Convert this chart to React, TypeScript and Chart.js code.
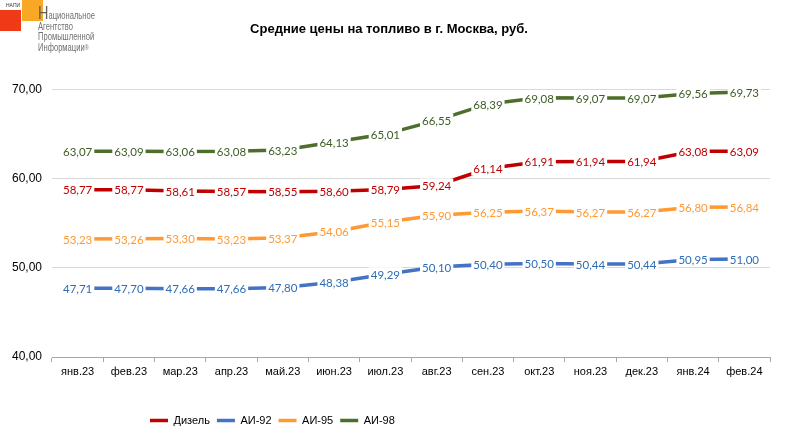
import React, { useEffect, useRef } from 'react'
import { Chart, registerables } from 'chart.js'

Chart.register(...registerables)

const months = ['янв.23', 'фев.23', 'мар.23', 'апр.23', 'май.23', 'июн.23', 'июл.23', 'авг.23', 'сен.23', 'окт.23', 'ноя.23', 'дек.23', 'янв.24', 'фев.24']

const diesel = [58.77, 58.77, 58.61, 58.57, 58.55, 58.6, 58.79, 59.24, 61.14, 61.91, 61.94, 61.94, 63.08, 63.09]
const ai92 = [47.71, 47.7, 47.66, 47.66, 47.8, 48.38, 49.29, 50.1, 50.4, 50.5, 50.44, 50.44, 50.95, 51.0]
const ai95 = [53.23, 53.26, 53.3, 53.23, 53.37, 54.06, 55.15, 55.9, 56.25, 56.37, 56.27, 56.27, 56.8, 56.84]
const ai98 = [63.07, 63.09, 63.06, 63.08, 63.23, 64.13, 65.01, 66.55, 68.39, 69.08, 69.07, 69.07, 69.56, 69.73]

const seriesNames = ['Дизель', 'АИ-92', 'АИ-95', 'АИ-98']
const lineColors = ['#C00000', '#4472C4', '#FF9933', '#4E6E2B']
const labelColors = ['#C00000', '#2E6DB4', '#FF9933', '#3D5C24']

const fmt = (v: number) => v.toFixed(2).replace('.', ',')

const sans = '"Liberation Sans", Arial, sans-serif'

// value labels sit on the points with a white box, so the line breaks around them
const pointLabels = {
  id: 'pointLabels',
  afterDatasetsDraw(chart: Chart) {
    const ctx = chart.ctx
    ctx.save()
    ctx.font = '11.5px Lato, sans-serif'
    ctx.textAlign = 'center'
    ctx.textBaseline = 'middle'
    chart.data.datasets.forEach((ds, i) => {
      const meta = chart.getDatasetMeta(i)
      meta.data.forEach((pt, j) => {
        const text = fmt(ds.data[j] as number)
        const w = ctx.measureText(text).width
        ctx.fillStyle = '#ffffff'
        ctx.fillRect(pt.x - w / 2 - 2, pt.y - 7, w + 4, 14)
        ctx.fillStyle = labelColors[i]
        ctx.fillText(text, pt.x, pt.y + 1)
      })
    })
    ctx.restore()
  },
}

// the legend sits left of centre in the original
const legendPlace = {
  id: 'legendPlace',
  afterLayout(chart: any) {
    const lg = chart.legend
    if (!lg) return
    const h = lg.bottom - lg.top
    lg.left = 143
    lg.top = 408
    lg.bottom = 408 + h
  },
}

const Logo = () => (
  <div style={{ position: 'absolute', left: 0, top: 0, width: 140, height: 60, pointerEvents: 'none' }}>
    <div style={{ position: 'absolute', left: 0, top: 10, width: 21, height: 21, background: '#F03A17' }} />
    <div style={{ position: 'absolute', left: 22, top: 0, width: 21, height: 21, background: '#F9A825' }} />
    <div style={{ position: 'absolute', left: 6, top: 2, fontSize: 5, fontFamily: sans, color: '#333' }}>НАПИ</div>
    <div
      style={{
        position: 'absolute', left: 38, top: 4, fontFamily: sans, color: '#707070',
        fontSize: 10, lineHeight: '10.3px', whiteSpace: 'pre', transform: 'scaleX(0.76)', transformOrigin: 'left top',
      }}
    >
      <span style={{ fontSize: 19, lineHeight: '18px', color: '#606060' }}>Н</span>
      {'ациональное\nАгентство\nПромышленной\nИнформации'}
      <span style={{ fontSize: 7, verticalAlign: 'top' }}>{'\u00AE'}</span>
    </div>
  </div>
)

const App = () => {
  const chartRef = useRef<HTMLCanvasElement>(null)

  useEffect(() => {
    if (!chartRef.current) return
    const ctx = chartRef.current.getContext('2d')
    if (!ctx) return

    const series = [diesel, ai92, ai95, ai98]

    const chart = new Chart(ctx, {
      type: 'line',
      data: {
        labels: months,
        datasets: series.map((d, i) => ({
          label: seriesNames[i],
          data: d,
          borderColor: lineColors[i],
          backgroundColor: lineColors[i],
          borderWidth: 3.5,
          pointRadius: 0,
          tension: 0,
        })),
      },
      options: {
        animation: false,
        responsive: true,
        maintainAspectRatio: false,
        layout: { padding: { left: 8, right: 29, top: 0, bottom: 0 } },
        plugins: {
          title: {
            display: true,
            text: 'Средние цены на топливо в г. Москва, руб.',
            color: '#000',
            font: { family: sans, size: 13, weight: 'bold' },
            padding: { top: 22, bottom: 52 },
          },
          legend: {
            position: 'bottom',
            align: 'start',
            labels: {
              usePointStyle: true,
              pointStyle: 'line',
              pointStyleWidth: 18,
              boxHeight: 12,
              padding: 7,
              color: '#000',
              font: { family: sans, size: 11 },
            },
          },
          tooltip: { enabled: false },
        },
        scales: {
          x: {
            offset: true,
            afterFit: (s: any) => { s.height = 52 },
            grid: { offset: true, drawOnChartArea: false, tickLength: 5, color: '#A6A6A6' },
            border: { color: '#A6A6A6' },
            ticks: { color: '#000', font: { family: sans, size: 11 }, maxRotation: 0, padding: 3 },
          },
          y: {
            min: 40,
            max: 70,
            afterFit: (s: any) => { s.width = 44 },
            border: { display: false },
            grid: { color: '#D9D9D9', tickLength: 0 },
            ticks: {
              stepSize: 10,
              color: '#000',
              padding: 10,
              font: { family: sans, size: 12 },
              callback: (v: any) => fmt(Number(v)),
            },
          },
        },
      },
      plugins: [pointLabels, legendPlace],
    })

    return () => {
      chart.destroy()
    }
  }, [])

  return (
    <div style={{ position: 'absolute', left: 0, top: 0, width: 799, height: 437, background: '#fff' }}>
      <canvas ref={chartRef} />
      <Logo />
    </div>
  )
}

export default App
